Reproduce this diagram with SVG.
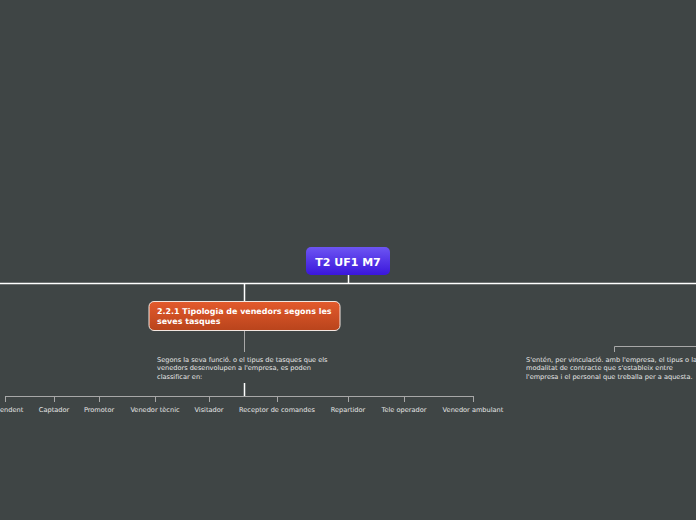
<svg xmlns="http://www.w3.org/2000/svg" width="696" height="520" viewBox="0 0 696 520">
<defs>
<linearGradient id="gc" x1="0" y1="0" x2="0" y2="1"><stop offset="0" stop-color="#6d55f2"/><stop offset="1" stop-color="#3a16dc"/></linearGradient>
<linearGradient id="gb" x1="0" y1="0" x2="0" y2="1"><stop offset="0" stop-color="#e35a2c"/><stop offset="1" stop-color="#b9441c"/></linearGradient>
<style>
.t{font-family:"DejaVu Sans",Verdana,sans-serif;font-size:6.6px;fill:#e6e6e6}
.lbl{font-family:"DejaVu Sans",Verdana,sans-serif;font-size:6.6px;fill:#e6e6e6;text-anchor:middle}
.w{stroke:#ffffff;stroke-width:1.5;fill:none}
.g{stroke:#a8a8a8;stroke-width:1;fill:none}
</style>
</defs>
<rect width="696" height="520" fill="#3f4545"/>
<g id="connectors">
<path class="w" d="M0 283.5H696M348.5 275V283.5M244.5 283.5V301"/>
<path class="g" d="M244.5 331V352"/>
<path class="w" d="M244.5 383V396"/>
<path class="g" d="M5.5 396.5H473.5M5.5 396V402M54.5 396V402M99.5 396V402M155.5 396V402M209.5 396V402M277.5 396V402M348.5 396V402M404.5 396V402M473.5 396V402"/>
<path class="g" d="M614.5 352V346.5H696"/>
</g>
<g id="central">
<rect x="306" y="247" width="84" height="28" rx="5" fill="url(#gc)"/>
<text x="348" y="266" text-anchor="middle" font-family="DejaVu Sans,Verdana,sans-serif" font-size="11" font-weight="bold" fill="#fff">T2 UF1 M7</text>
</g>
<g id="branch">
<rect x="149" y="301.5" width="191" height="29" rx="5" fill="url(#gb)" stroke="#f2e6e0" stroke-width="1"/>
<text font-family="DejaVu Sans,Verdana,sans-serif" font-size="7.95" font-weight="bold" fill="#fff"><tspan x="157" y="314">2.2.1 Tipologia de venedors segons les</tspan><tspan x="157" y="323.5">seves tasques</tspan></text>
</g>
<g id="desc">
<text class="t"><tspan x="157" y="361.5">Segons la seva funció. o el tipus de tasques que els</tspan><tspan x="157" y="370">venedors desenvolupen a l'empresa, es poden</tspan><tspan x="157" y="378.5">classificar en:</tspan></text>
</g>
<g id="right-desc">
<text class="t"><tspan x="526" y="361.5">S'entén, per vinculació. amb l'empresa, el tipus o la</tspan><tspan x="526" y="370">modalitat de contracte que s'estableix entre</tspan><tspan x="526" y="378.5">l'empresa i el personal que treballa per a aquesta.</tspan></text>
</g>
<g id="n1"><text class="lbl" x="5" y="412">Dependent</text></g>
<g id="n2"><text class="lbl" x="54" y="412">Captador</text></g>
<g id="n3"><text class="lbl" x="99" y="412">Promotor</text></g>
<g id="n4"><text class="lbl" x="155" y="412">Venedor tècnic</text></g>
<g id="n5"><text class="lbl" x="209" y="412">Visitador</text></g>
<g id="n6"><text class="lbl" x="277" y="412">Receptor de comandes</text></g>
<g id="n7"><text class="lbl" x="348" y="412">Repartidor</text></g>
<g id="n8"><text class="lbl" x="404" y="412">Tele operador</text></g>
<g id="n9"><text class="lbl" x="473" y="412">Venedor ambulant</text></g>
</svg>
